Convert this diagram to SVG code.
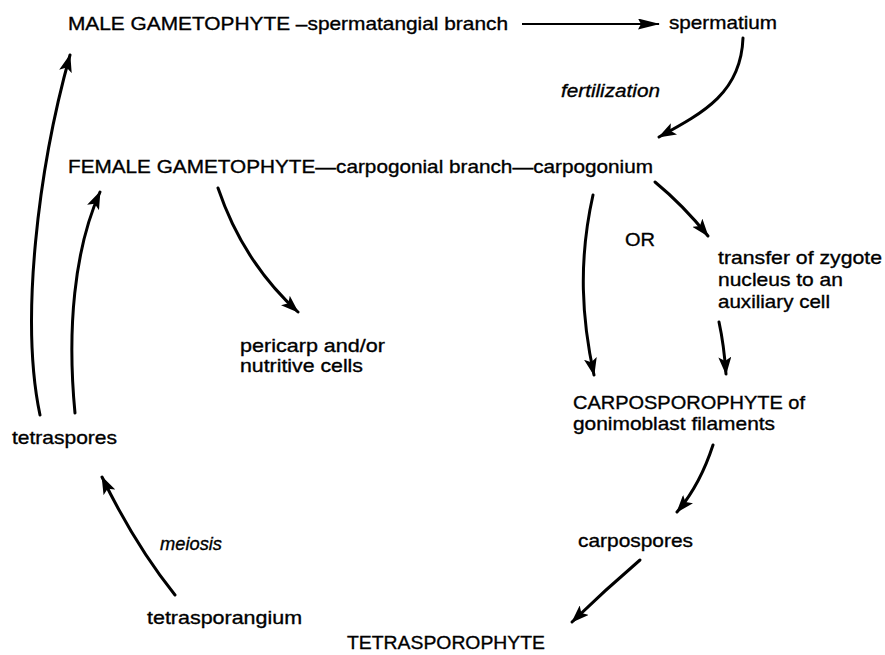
<svg xmlns="http://www.w3.org/2000/svg" width="885" height="655" viewBox="0 0 885 655">
<style>
text{font-family:"Liberation Sans",Arial,sans-serif;font-size:19px;fill:#000;stroke:#000;stroke-width:0.35}
.it{font-style:italic}
.c{fill:none;stroke:#000;stroke-width:3;stroke-linecap:round;marker-end:url(#ah)}
.t{fill:none;stroke:#000;stroke-width:2.2;marker-end:url(#ah2)}
</style>
<defs>
<marker id="ah" viewBox="0 0 18 13" refX="17" refY="6.5" markerWidth="18" markerHeight="13" markerUnits="userSpaceOnUse" orient="auto">
<path d="M0,0 L18,6.5 L0,13 L4,6.5 Z" fill="#000"/>
</marker>
<marker id="ah2" viewBox="0 0 22 11" refX="21" refY="5.5" markerWidth="22" markerHeight="11" markerUnits="userSpaceOnUse" orient="auto">
<path d="M0,0 L22,5.5 L0,11 L3,5.5 Z" fill="#000"/>
</marker>
</defs>
<rect width="885" height="655" fill="#fff"/>
<g id="connectors">
<path class="t" d="M522,24 L659,24"/>
<path class="c" d="M743,38 C741,92 705,112 659,137"/>
<path class="c" d="M218,188 Q243,262 298,312"/>
<path class="c" d="M40,415 C20,320 38,170 70,55"/>
<path class="c" d="M75,413 C67,330 74,250 100,192"/>
<path class="c" d="M593,195 C578,262 582,320 594,375"/>
<path class="c" d="M655,182 Q683,205 708,236"/>
<path class="c" d="M719,322 Q724,345 726,374"/>
<path class="c" d="M713,445 Q700,485 677,512"/>
<path class="c" d="M640,560 Q605,590 572,622"/>
<path class="c" d="M175,595 Q135,545 102,477"/>
</g>
<g id="male"><text x="68" y="30" textLength="440" lengthAdjust="spacingAndGlyphs">MALE GAMETOPHYTE –spermatangial branch</text></g>
<g id="spermatium"><text x="669" y="29" textLength="108" lengthAdjust="spacingAndGlyphs">spermatium</text></g>
<g id="fertilization"><text class="it" x="561" y="97" textLength="99" lengthAdjust="spacingAndGlyphs">fertilization</text></g>
<g id="female"><text x="68" y="173" textLength="585" lengthAdjust="spacingAndGlyphs">FEMALE GAMETOPHYTE—carpogonial branch—carpogonium</text></g>
<g id="pericarp">
<text x="240" y="352" textLength="145" lengthAdjust="spacingAndGlyphs">pericarp and/or</text>
<text x="240" y="372" textLength="123" lengthAdjust="spacingAndGlyphs">nutritive cells</text>
</g>
<g id="or"><text x="625" y="246" textLength="30" lengthAdjust="spacingAndGlyphs">OR</text></g>
<g id="transfer">
<text x="718" y="264" textLength="164" lengthAdjust="spacingAndGlyphs">transfer of zygote</text>
<text x="718" y="286" textLength="125" lengthAdjust="spacingAndGlyphs">nucleus to an</text>
<text x="718" y="308" textLength="112" lengthAdjust="spacingAndGlyphs">auxiliary cell</text>
</g>
<g id="carposporophyte">
<text x="573" y="409" textLength="232" lengthAdjust="spacingAndGlyphs">CARPOSPOROPHYTE of</text>
<text x="573" y="430" textLength="202" lengthAdjust="spacingAndGlyphs">gonimoblast filaments</text>
</g>
<g id="carpospores"><text x="578" y="547" textLength="115" lengthAdjust="spacingAndGlyphs">carpospores</text></g>
<g id="tetrasporophyte"><text x="347" y="649" textLength="198" lengthAdjust="spacingAndGlyphs">TETRASPOROPHYTE</text></g>
<g id="tetrasporangium"><text x="147" y="624" textLength="155" lengthAdjust="spacingAndGlyphs">tetrasporangium</text></g>
<g id="meiosis"><text class="it" x="160" y="550" textLength="62" lengthAdjust="spacingAndGlyphs">meiosis</text></g>
<g id="tetraspores"><text x="12" y="444" textLength="105" lengthAdjust="spacingAndGlyphs">tetraspores</text></g>
</svg>
